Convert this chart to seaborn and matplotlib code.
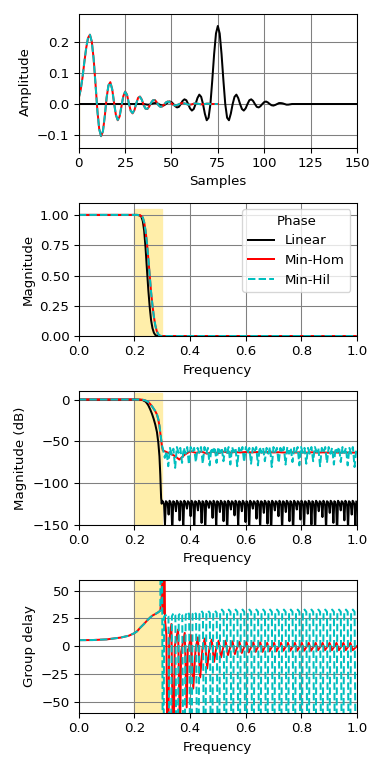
import numpy as np
import matplotlib
matplotlib.use("Agg")
import matplotlib.pyplot as plt
from matplotlib.ticker import MultipleLocator
import seaborn as sns

# ---- impulse responses ----
lin_n = [0, 20, 34] + list(range(35, 116)) + [116, 130, 150]
lin_h = [0.0, 0.0, 0.0,
         0.000, -0.001, -0.002, -0.002, 0.000, 0.002, 0.003, 0.003, 0.000, -0.003,
         -0.005, -0.004, 0.000, 0.005, 0.008, 0.006, 0.000, -0.007, -0.011, -0.009,
         0.000, 0.010, 0.015, 0.012, 0.000, -0.014, -0.021, -0.016, 0.000, 0.019,
         0.030, 0.023, 0.000, -0.031, -0.052, -0.044, 0.000, 0.076, 0.160, 0.226,
         0.250,
         0.226, 0.160, 0.076, 0.000, -0.044, -0.052, -0.031, 0.000, 0.023, 0.030,
         0.019, 0.000, -0.016, -0.021, -0.014, 0.000, 0.012, 0.015, 0.010, 0.000,
         -0.009, -0.011, -0.007, 0.000, 0.006, 0.008, 0.005, 0.000, -0.004, -0.005,
         -0.003, 0.000, 0.003, 0.003, 0.002, 0.000, -0.002, -0.002, -0.001, 0.000,
         0.0, 0.0, 0.0]

min_n = list(range(76))
min_hom_h = [0.020, 0.045, 0.085, 0.135, 0.180, 0.212, 0.222, 0.200, 0.145, 0.065,
             -0.020, -0.080, -0.103, -0.088, -0.040, 0.020, 0.060, 0.070, 0.048, 0.005,
             -0.035, -0.052, -0.040, -0.008, 0.025, 0.040, 0.030, 0.002, -0.022, -0.030,
             -0.020, 0.002, 0.020, 0.024, 0.014, -0.004, -0.015, -0.016, -0.008, 0.004,
             0.012, 0.013, 0.006, -0.004, -0.009, -0.008, -0.002, 0.005, 0.008, 0.007,
             0.002, -0.003, -0.005, -0.004, -0.001, 0.002, 0.003, 0.002, 0.000, -0.002,
             -0.002, -0.001, 0.001, 0.002, 0.001, 0.000, -0.001, -0.001, 0.000, 0.001,
             0.001, 0.000, 0.000, 0.000, 0.000, 0.000]
min_hil_h = [0.021, 0.046, 0.086, 0.136, 0.181, 0.213, 0.222, 0.199, 0.144, 0.064,
             -0.021, -0.081, -0.103, -0.087, -0.039, 0.021, 0.060, 0.069, 0.047, 0.004,
             -0.035, -0.051, -0.039, -0.007, 0.025, 0.039, 0.029, 0.002, -0.022, -0.029,
             -0.019, 0.002, 0.020, 0.023, 0.013, -0.004, -0.015, -0.015, -0.007, 0.004,
             0.012, 0.012, 0.006, -0.004, -0.009, -0.007, -0.002, 0.005, 0.008, 0.006,
             0.002, -0.003, -0.005, -0.003, -0.001, 0.002, 0.003, 0.002, 0.000, -0.002,
             -0.002, -0.001, 0.001, 0.002, 0.001, 0.000, -0.001, -0.001, 0.000, 0.001,
             0.001, 0.000, 0.000, 0.000, 0.000, 0.000]

# ---- magnitude (linear) ----
mag_x_lin = [0.0, 0.1, 0.2, 0.21, 0.22, 0.225, 0.23, 0.235, 0.24, 0.245, 0.25, 0.255,
             0.26, 0.265, 0.27, 0.275, 0.28, 0.29, 0.3, 0.5, 1.0]
mag_lin = [1.0, 1.0, 1.0, 1.0, 0.995, 0.985, 0.95, 0.87, 0.73, 0.55, 0.38, 0.24,
           0.13, 0.065, 0.028, 0.01, 0.003, 0.0003, 0.0, 0.0, 0.0]
mag_x_min = [0.0, 0.1, 0.2, 0.21, 0.22, 0.23, 0.235, 0.24, 0.245, 0.25, 0.255, 0.26,
             0.265, 0.27, 0.275, 0.28, 0.285, 0.29, 0.295, 0.3, 0.5, 1.0]
mag_hom = [1.0, 1.0, 1.0, 1.0, 0.998, 0.98, 0.94, 0.87, 0.77, 0.64, 0.5, 0.36,
           0.25, 0.16, 0.09, 0.045, 0.018, 0.005, 0.001, 0.001, 0.001, 0.001]
mag_hil = [1.0, 1.0, 1.0, 1.0, 0.998, 0.98, 0.94, 0.87, 0.77, 0.64, 0.5, 0.36,
           0.25, 0.16, 0.09, 0.046, 0.019, 0.006, 0.002, 0.001, 0.001, 0.001]

# ---- magnitude (dB) ----
db_x_lin = [0.0, 0.1, 0.2, 0.22, 0.23, 0.24, 0.245, 0.25, 0.257, 0.263, 0.269, 0.275,
            0.281, 0.286, 0.29, 0.293, 0.296, 0.298]
db_lin = [0, 0, 0, -0.2, -0.7, -2.5, -4.5, -7, -12, -17, -23, -30,
          -39, -52, -68, -90, -118, -125]
# stopband comb of the linear filter, four readings per ripple
db_lin_stop = [
    -121.5, -123, -126, -150,  -122, -123, -126, -138,  -121.5, -123, -127, -160,  -122, -123, -126, -134,
    -121.5, -123, -126, -145,  -122, -123, -127, -156,  -121.5, -123, -126, -131,  -122, -123, -126, -140,
    -121.5, -123, -127, -152,  -122, -123, -126, -133,  -121.5, -123, -126, -148,  -122, -123, -127, -158,
    -121.5, -123, -126, -130,  -122, -123, -126, -142,  -121.5, -123, -127, -153,  -122, -123, -126, -135,
    -121.5, -123, -126, -146,  -122, -123, -127, -160,  -121.5, -123, -126, -132,  -122, -123, -126, -139,
    -121.5, -123, -127, -151,  -122, -123, -126, -134,  -121.5, -123, -126, -147,  -122, -123, -127, -157,
    -121.5, -123, -126, -131,  -122, -123, -126, -143,  -121.5, -123, -127, -155,  -122, -123, -126, -136,
    -121.5, -123, -126, -149,  -122, -123, -127, -161,  -121.5, -123, -126, -133,  -122, -123, -126, -140,
    -121.5, -123, -127, -158,  -122, -123, -126, -135,  -121.5, -123, -126, -146,  -122, -123, -127, -162,
    -121.5, -123, -126, -132,  -122, -123, -126, -144,  -121.5, -123, -127, -154,  -122, -123, -126, -137,
    -121.5, -123, -126, -150,  -122, -123, -127, -160,  -121.5, -123, -126, -134,  -122, -123, -126, -141,
    -121.5, -123, -127, -157,  -122, -123, -126, -136,  -121.5, -123, -126, -148,  -122, -123, -127, -163,
    -121.5, -123, -126, -133,  -122, -123, -126, -145,  -121.5, -123, -127, -156,  -122, -123, -126, -138,
    -121.5, -123, -126, -152,  -122.5]

db_x_min = [0.0, 0.1, 0.2, 0.23, 0.24, 0.25, 0.257, 0.263, 0.269, 0.275, 0.281, 0.286,
            0.29, 0.293, 0.296, 0.299]
db_hom = [0, 0, 0, -0.3, -1.2, -3, -5.5, -8, -11, -14, -18, -24, -32, -40, -48, -56]
db_hil = [0, 0, 0, -0.3, -1.2, -3, -5.4, -7.9, -10.8, -13.8, -17.7, -23.5, -31, -39, -47, -55]
db_hom_stop = [-61, -64, -67, -72, -66, -62, -64, -62.5, -65, -62.5, -64.5, -62.5,
               -64, -63, -63.5, -63, -63.5, -63, -63.5, -63, -63.5, -63.2, -63.6, -63.2,
               -63.6, -63.3, -63.7, -63.3, -63.7, -63.4, -63.8, -63.4, -63.8, -63.5,
               -63.8, -63.6]
db_hil_stop = [-60, -70, -62, -80, -58, -66, -59, -82, -57, -64, -58, -76,
               -58, -65, -57, -78, -57, -63, -58, -75, -58, -64, -57, -77,
               -57, -65, -58, -79, -58, -63, -57, -76, -57, -64, -58, -74,
               -58, -65, -57, -78, -57, -63, -58, -80, -58, -64, -57, -75,
               -57, -65, -58, -77, -58, -63, -57, -79, -57, -64, -58, -74,
               -58, -65, -57, -81, -57, -63, -58, -76, -58, -64, -57, -78,
               -57, -65, -58, -75, -58, -63, -57, -79, -57, -64, -58, -77,
               -58, -65, -57, -74, -57, -63, -58, -80, -58, -64, -57, -76,
               -57, -65, -58, -78, -58, -63, -57, -75, -57, -64, -58, -79,
               -58, -65, -57, -81, -59]

# ---- group delay ----
gd_x_lin = [0.0, 1.0]
gd_lin = [75, 75]
gd_x_min = [0.0, 0.05, 0.1, 0.15, 0.18, 0.2, 0.21, 0.22, 0.233, 0.245, 0.257, 0.266,
            0.275, 0.285, 0.293]
gd_pass = [5.5, 5.6, 6.2, 7.8, 9.5, 11.8, 13.6, 16.5, 19.7, 23, 26, 27.8, 29, 30.5, 32]
gd_hom_x_edge = [0.298, 0.301, 0.304, 0.307, 0.310, 0.315, 0.320, 0.325, 0.333, 0.340,
                 0.345, 0.357, 0.364, 0.368, 0.381, 0.388, 0.392]
gd_hom_edge = [45, 120, 30, 120, 24, 10, -150, 5, 20, -120, 0, 15, -80, -5, 12, -55, -3]
gd_hom_stop = [-2, 10, -38, -2, 8, -28, -1.5, 7, -20, -1.5, 6, -14,
               -1, 5, -10, -1, 5, -8, -1, 4.5, -7, -1, 4, -6,
               -1, 4, -5.5, -1, 3.5, -5, -0.5, 3.5, -5, -0.5, 3, -4.5,
               -0.5, 3, -4.5, -0.5, 3, -4, -0.5, 3, -4, -0.5, 3, -4,
               -0.5, 3, -4, -0.5, 3, -4, -0.5, 3, -3.5, -0.5, 3, -3.5,
               -0.5, 3, -3.5, -0.5, 3, -3.5, -0.5, 3, -3.5, -0.5, 3, -3.5]
gd_hil_x_edge = [0.296, 0.300, 0.303, 0.307]
gd_hil_edge = [150, 40, -200, 27]
gd_hil_stop = [27, 29, 27, -200, 27, 30, 28, -200, 28, 30, 28, -200, 28, 31, 29, -200,
               29, 31, 29, -200, 29, 32, 30, -200, 29, 32, 30, -200, 30, 32, 30, -200,
               30, 33, 31, -200, 30, 33, 31, -200, 30, 33, 31, -200, 30, 33, 31, -200,
               30, 33, 31, -200, 30, 33, 31, -200, 30, 33, 31, -200, 30, 33, 31, -200,
               30, 33, 31, -200, 30, 33, 31, -200, 30, 33, 31, -200, 30, 33, 31, -200,
               30, 33, 31, -200, 30, 33, 31, -200, 30, 33, 31, -200, 30, 33, 31, -200,
               30, 33, 31, -200, 30, 33, 31, -200, 30, 33, 31, -200, 30, 33, 31, -200]

band = [0.2, 0.3]
labels = ["Linear", "Min-Hom", "Min-Hil"]


def draw(ax, x, y, color, ls, label=None):
    sns.lineplot(x=np.asarray(x, float), y=np.asarray(y, float), color=color,
                 linestyle=ls, sort=False, estimator=None, errorbar=None,
                 linewidth=1.5, label=label, ax=ax)


fig, axs = plt.subplots(4, figsize=(4, 8), dpi=96)

# impulse
draw(axs[0], lin_n, lin_h, "k", "-")
draw(axs[0], min_n, min_hom_h, "r", "-")
draw(axs[0], min_n, min_hil_h, "c", "--")

# magnitude
draw(axs[1], mag_x_lin, mag_lin, "k", "-", labels[0])
draw(axs[1], mag_x_min, mag_hom, "r", "-", labels[1])
draw(axs[1], mag_x_min, mag_hil, "c", "--", labels[2])

# dB
x_lin_stop = np.linspace(0.300, 0.998, len(db_lin_stop))
x_hom_stop = np.linspace(0.302, 0.998, len(db_hom_stop))
x_hil_stop = np.linspace(0.303, 0.998, len(db_hil_stop))
draw(axs[2], np.r_[db_x_lin, x_lin_stop], np.r_[db_lin, db_lin_stop], "k", "-")
draw(axs[2], np.r_[db_x_min, x_hom_stop], np.r_[db_hom, db_hom_stop], "r", "-")
draw(axs[2], np.r_[db_x_min, x_hil_stop], np.r_[db_hil, db_hil_stop], "c", "--")

# group delay
x_gd_hom = np.linspace(0.395, 0.985, len(gd_hom_stop))
x_gd_hil = np.linspace(0.310, 0.998, len(gd_hil_stop))
draw(axs[3], gd_x_lin, gd_lin, "k", "-")
draw(axs[3], np.r_[gd_x_min, gd_hom_x_edge, x_gd_hom, 1.0],
     np.r_[gd_pass, gd_hom_edge, gd_hom_stop, 0.0], "r", "-")
draw(axs[3], np.r_[gd_x_min, gd_hil_x_edge, x_gd_hil],
     np.r_[gd_pass, gd_hil_edge, gd_hil_stop], "c", "--")

for ax in axs:
    ax.grid(True, color="0.5")
    ax.fill_between(band, *ax.get_ylim(), color="#ffeeaa", zorder=1)

axs[0].set(xlim=[0, 150], ylabel="Amplitude", xlabel="Samples")
axs[1].legend(labels, title="Phase", loc="upper right")
for ax, ylim in zip(axs[1:], ([0, 1.1], [-150, 10], [-60, 60])):
    ax.set(xlim=[0, 1], ylim=ylim, xlabel="Frequency")
axs[1].set(ylabel="Magnitude")
axs[2].set(ylabel="Magnitude (dB)")
axs[3].set(ylabel="Group delay")

axs[0].yaxis.set_major_locator(MultipleLocator(0.1))
axs[1].yaxis.set_major_locator(MultipleLocator(0.25))
axs[3].yaxis.set_major_locator(MultipleLocator(25))

plt.tight_layout()
plt.savefig("out.png", dpi=96)
